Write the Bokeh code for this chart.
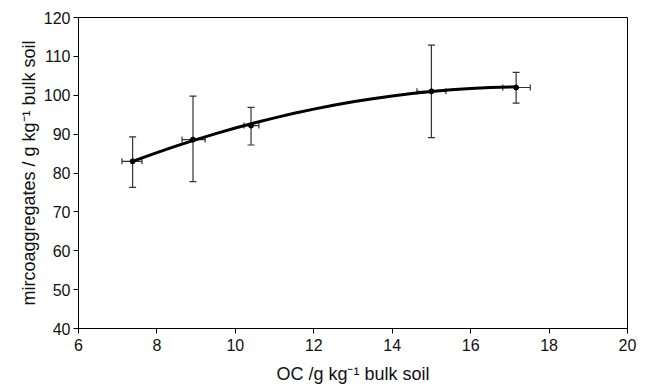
from bokeh.plotting import figure
from bokeh.models import Whisker, ColumnDataSource, FixedTicker, TeeHead
from bokeh.embed import file_html
from bokeh.resources import INLINE

# measured points
oc = [7.38, 8.92, 10.4, 15.0, 17.16]
oc_lo = [7.11, 8.64, 10.22, 14.63, 16.82]
oc_hi = [7.62, 9.23, 10.6, 15.37, 17.52]
micro = [83.0, 88.6, 92.2, 101.0, 102.0]
micro_lo = [76.3, 77.8, 87.2, 89.1, 98.0]
micro_hi = [89.3, 99.8, 96.9, 112.9, 105.9]

# fitted trend curve
curve_x = [7.4, 7.5, 8.0, 8.5, 9.0, 9.5, 10.0, 10.5, 11.0, 11.5, 12.0, 12.5,
           13.0, 13.5, 14.0, 14.5, 15.0, 15.5, 16.0, 16.5, 17.0, 17.2]
curve_y = [83.06, 83.43, 85.24, 86.96, 88.59, 90.13, 91.57, 92.92, 94.18, 95.35,
           96.43, 97.41, 98.31, 99.11, 99.82, 100.43, 100.96, 101.39, 101.73,
           101.98, 102.13, 102.17]

x_ticks = [6, 8, 10, 12, 14, 16, 18, 20]
y_ticks = [40, 50, 60, 70, 80, 90, 100, 110, 120]

FONT = "Liberation Sans"

p = figure(width=649, height=387, output_backend="svg", toolbar_location=None,
           x_range=(6, 20), y_range=(40, 120),
           min_border_left=78, min_border_right=22, min_border_top=17, min_border_bottom=59)
p.xgrid.visible = False
p.ygrid.visible = False
p.outline_line_color = "black"
p.outline_line_width = 1
p.background_fill_color = "white"
p.border_fill_color = "white"

src = ColumnDataSource(dict(x=oc, xlo=oc_lo, xhi=oc_hi, y=micro, ylo=micro_lo, yhi=micro_hi))

vw = Whisker(source=src, base="x", lower="ylo", upper="yhi", dimension="height",
             line_color="#333333", line_width=1.2,
             lower_head=TeeHead(size=7, line_color="#333333", line_width=1.2),
             upper_head=TeeHead(size=7, line_color="#333333", line_width=1.2))
hw = Whisker(source=src, base="y", lower="xlo", upper="xhi", dimension="width",
             line_color="#333333", line_width=1.2,
             lower_head=TeeHead(size=6, line_color="#333333", line_width=1.2),
             upper_head=TeeHead(size=6, line_color="#333333", line_width=1.2))
p.add_layout(vw)
p.add_layout(hw)

p.line(curve_x, curve_y, line_color="black", line_width=3)
p.scatter("x", "y", source=src, size=5, color="black")

for ax in (p.xaxis[0], p.yaxis[0]):
    ax.major_label_text_font = FONT
    ax.major_label_text_font_size = "16px"
    ax.major_label_text_color = "#111111"
    ax.axis_label_text_font = FONT
    ax.axis_label_text_font_size = "18px"
    ax.axis_label_text_font_style = "normal"
    ax.axis_label_text_color = "#111111"
    ax.minor_tick_line_color = None
    ax.major_tick_out = 5
    ax.major_tick_in = 0
    ax.axis_line_color = "black"
    ax.major_tick_line_color = "black"

p.xaxis[0].ticker = FixedTicker(ticks=x_ticks)
p.yaxis[0].ticker = FixedTicker(ticks=y_ticks)
p.xaxis[0].axis_label = "OC /g kg\u207b\u00b9 bulk soil"
p.yaxis[0].axis_label = "mircoaggregates / g kg\u207b\u00b9 bulk soil"
p.xaxis[0].axis_label_standoff = 10
p.yaxis[0].axis_label_standoff = 2
p.xaxis[0].major_label_standoff = 5
p.yaxis[0].major_label_standoff = 3

open("out.html", "w").write(file_html(p, INLINE))
